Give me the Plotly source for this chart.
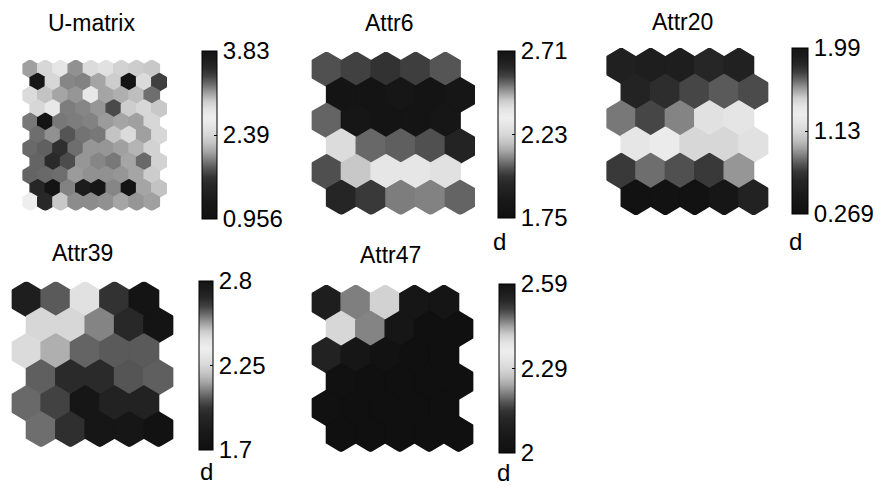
import math
import plotly.graph_objects as go

# ---------------- data ----------------
umatrix_values = [
    [2.088, 2.393, 2.565, 2.034, 2.436, 2.502, 2.357, 2.321, 2.285],
    [3.78, 2.393, 1.996, 1.979, 2.106, 2.321, 3.83, 2.436, 3.41],
    [2.436, 2.249, 2.106, 2.051, 2.594, 2.106, 2.154, 2.226, 1.907],
    [2.393, 2.594, 1.962, 1.996, 2.051, 3.37, 2.321, 2.393, 2.285],
    [1.945, 3.83, 1.945, 1.962, 1.979, 2.071, 2.106, 2.088, 2.393],
    [1.907, 2.034, 1.818, 1.926, 1.945, 2.249, 2.436, 2.088, 2.393],
    [1.89, 1.856, 1.623, 1.907, 2.051, 2.051, 2.088, 2.177, 2.357],
    [1.873, 1.571, 1.778, 2.051, 1.996, 1.945, 2.106, 1.89, 2.357],
    [1.873, 1.89, 1.907, 2.071, 2.034, 2.034, 2.051, 2.106, 2.321],
    [3.57, 3.83, 1.979, 3.69, 3.80, 1.996, 3.83, 2.106, 2.249],
    [2.68, 3.54, 2.285, 2.017, 2.017, 2.034, 2.106, 2.051, 2.088],
]
umatrix_ticks = [0.956, 2.393, 3.83]
umatrix_ticktext = ["0.956", "2.39", "3.83"]

attr6_values = [
    [2.550, 2.566, 2.595, 2.572, 2.545],
    [2.710, 2.710, 2.700, 2.710, 2.700],
    [2.529, 2.700, 2.710, 2.710, 2.700],
    [2.390, 2.524, 2.534, 2.550, 2.633],
    [2.030, 2.194, 2.288, 2.288, 2.266],
    [1.938, 1.997, 2.086, 2.092, 2.056],
]
attr6_ticks = [1.75, 2.23, 2.71]
attr6_ticktext = ["1.75", "2.23", "2.71"]

attr20_values = [
    [1.875, 1.890, 1.890, 1.832, 1.868],
    [1.854, 1.799, 1.722, 1.684, 1.713],
    [1.629, 1.722, 1.608, 1.399, 1.379],
    [1.233, 1.276, 1.130, 1.130, 1.195],
    [0.711, 0.839, 0.773, 0.711, 0.925],
    [0.320, 0.320, 0.320, 0.407, 0.563],
]
attr20_ticks = [0.269, 1.1295, 1.99]
attr20_ticktext = ["0.269", "1.13", "1.99"]

attr39_values = [
    [2.736, 2.604, 2.423, 2.668, 2.800],
    [2.446, 2.446, 2.556, 2.690, 2.800],
    [2.267, 2.159, 2.051, 2.037, 2.037],
    [2.044, 1.935, 1.935, 2.030, 2.044],
    [2.058, 1.998, 1.788, 1.888, 1.888],
    [2.064, 1.955, 1.788, 1.788, 1.733],
]
attr39_ticks = [1.7, 2.25, 2.8]
attr39_ticktext = ["1.7", "2.25", "2.8"]

attr47_values = [
    [2.556, 2.462, 2.288, 2.047, 2.035],
    [2.400, 2.459, 2.047, 2.000, 2.000],
    [2.101, 2.047, 2.018, 2.000, 2.000],
    [2.005, 2.000, 2.000, 2.000, 2.000],
    [2.005, 2.000, 2.000, 2.000, 2.000],
    [2.000, 2.000, 2.000, 2.000, 2.000],
]
attr47_ticks = [2.0, 2.295, 2.59]
attr47_ticktext = ["2", "2.29", "2.59"]

# gray-level colormap (dark - white - dark)
cmap_pos = [0.00, 0.10, 0.20, 0.25, 0.30, 0.35, 0.40, 0.45, 0.50, 0.55,
            0.60, 0.65, 0.70, 0.75, 0.80, 0.85, 0.90, 0.95, 1.00]
cmap_gray = [16, 24, 38, 52, 85, 125, 165, 195, 215, 228,
             238, 228, 205, 160, 110, 65, 40, 28, 20]

# ---------------- styling / layout ----------------
W, H = 884, 486
FONT = "Arial, Liberation Sans, sans-serif"
colorscale = [[p, f"rgb({g},{g},{g})"] for p, g in zip(cmap_pos, cmap_gray)]


def gray_for(v, vmin, vmax):
    t = (v - vmin) / (vmax - vmin)
    t = min(max(t, 0.0), 1.0)
    for k in range(len(cmap_pos) - 1):
        p0, p1 = cmap_pos[k], cmap_pos[k + 1]
        if t <= p1:
            g = cmap_gray[k] + (cmap_gray[k + 1] - cmap_gray[k]) * (t - p0) / (p1 - p0)
            g = int(round(g))
            return f"rgb({g},{g},{g})"
    g = cmap_gray[-1]
    return f"rgb({g},{g},{g})"


panels = [
    dict(title="U-matrix", values=umatrix_values, ticks=umatrix_ticks, ticktext=umatrix_ticktext,
         box=(22.5, 167.0, 60.0, 210.5), cbar=(202, 219, 51, 219), title_xy=(91, 23), d_xy=None),
    dict(title="Attr6", values=attr6_values, ticks=attr6_ticks, ticktext=attr6_ticktext,
         box=(311.7, 475.0, 52.0, 214.5), cbar=(498, 517, 51, 218), title_xy=(389, 23), d_xy=(499, 241)),
    dict(title="Attr20", values=attr20_values, ticks=attr20_ticks, ticktext=attr20_ticktext,
         box=(606.5, 768.3, 48.0, 215.0), cbar=(792, 810, 48, 214), title_xy=(682, 22), d_xy=(795, 241)),
    dict(title="Attr39", values=attr39_values, ticks=attr39_ticks, ticktext=attr39_ticktext,
         box=(11.7, 173.3, 281.7, 446.7), cbar=(199, 215, 281, 450), title_xy=(82, 253), d_xy=(206, 471)),
    dict(title="Attr47", values=attr47_values, ticks=attr47_ticks, ticktext=attr47_ticktext,
         box=(311.7, 473.3, 285.0, 451.7), cbar=(499, 517, 284, 453), title_xy=(390, 255), d_xy=(503, 472)),
]

S = math.sqrt(3) / 2      # row spacing in hex-width units
R = 1 / math.sqrt(3)      # circumradius of a hex of width 1

fig = go.Figure()
layout = dict(
    width=W, height=H, margin=dict(l=0, r=0, t=0, b=0),
    paper_bgcolor="white", plot_bgcolor="white", showlegend=False,
    font=dict(family=FONT, color="black"),
)
annotations = []

for k, p in enumerate(panels):
    idx = "" if k == 0 else str(k + 1)
    xa, ya = "x" + idx, "y" + idx
    vals = p["values"]
    nrows, ncols = len(vals), len(vals[0])
    vmin, vmax = p["ticks"][0], p["ticks"][-1]

    cx_list, cy_list, v_list = [], [], []
    for i in range(nrows):
        for j in range(ncols):
            cx = j + 0.5 * (i % 2)
            cy = -i * S
            v = vals[i][j]
            col = gray_for(v, vmin, vmax)
            xs = [cx, cx + 0.5, cx + 0.5, cx, cx - 0.5, cx - 0.5, cx]
            ys = [cy + R, cy + R / 2, cy - R / 2, cy - R, cy - R / 2, cy + R / 2, cy + R]
            fig.add_trace(go.Scatter(
                x=xs, y=ys, mode="lines", fill="toself", fillcolor=col,
                line=dict(color=col, width=1.4), hoverinfo="skip",
                showlegend=False, xaxis=xa, yaxis=ya))
            cx_list.append(cx)
            cy_list.append(cy)
            v_list.append(v)

    cl, cr, ct, cb = p["cbar"]
    fig.add_trace(go.Scatter(
        x=cx_list, y=cy_list, mode="markers", xaxis=xa, yaxis=ya,
        marker=dict(size=10, opacity=0, color=v_list, cmin=vmin, cmax=vmax,
                    colorscale=colorscale, showscale=True,
                    colorbar=dict(
                        x=cl / W, xanchor="left", xpad=0,
                        y=1 - cb / H, yanchor="bottom", ypad=0,
                        len=(cb - ct) / H, lenmode="fraction",
                        thickness=cr - cl - 2, outlinewidth=1, outlinecolor="black",
                        tickmode="array", tickvals=p["ticks"], ticktext=p["ticktext"],
                        ticks="inside", ticklen=3, tickcolor="black",
                        tickfont=dict(size=24, family=FONT, color="black"))),
        hovertemplate="%{marker.color:.3f}<extra></extra>", showlegend=False))

    bl, br, bt, bb = p["box"]
    layout["xaxis" + idx] = dict(domain=[bl / W, br / W], range=[-0.5, ncols],
                                 visible=False, fixedrange=True, anchor=ya)
    layout["yaxis" + idx] = dict(domain=[1 - bb / H, 1 - bt / H],
                                 range=[-((nrows - 1) * S + R), R],
                                 visible=False, fixedrange=True, anchor=xa)

    tx, ty = p["title_xy"]
    annotations.append(dict(text=p["title"], x=tx / W, y=1 - ty / H, xref="paper", yref="paper",
                            xanchor="center", yanchor="middle", showarrow=False,
                            font=dict(size=23, family=FONT, color="black")))
    if p["d_xy"]:
        dx, dy = p["d_xy"]
        annotations.append(dict(text="d", x=dx / W, y=1 - dy / H, xref="paper", yref="paper",
                                xanchor="center", yanchor="middle", showarrow=False,
                                font=dict(size=24, family=FONT, color="black")))

layout["annotations"] = annotations
fig.update_layout(**layout)
fig.write_html("out.html", config={"displayModeBar": False},
               post_script="document.body.style.margin='0';document.body.style.padding='0';")
